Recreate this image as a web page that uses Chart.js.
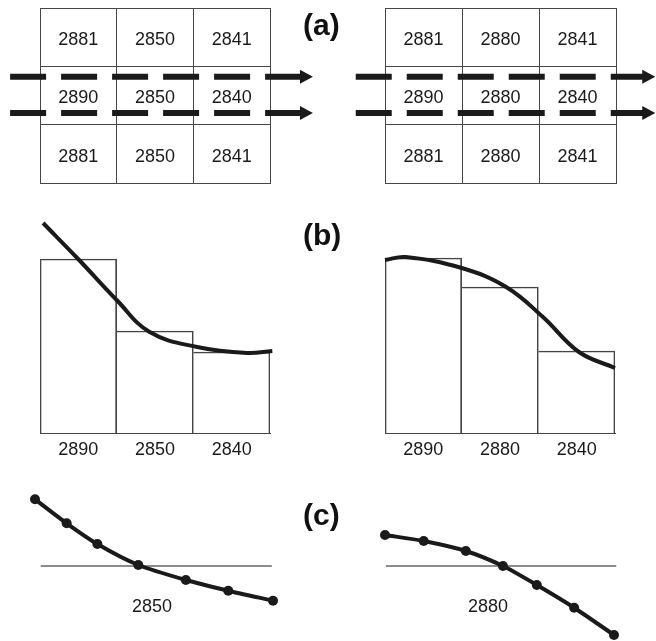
<!DOCTYPE html>
<html>
<head>
<meta charset="utf-8">
<script src="https://cdn.jsdelivr.net/npm/chart.js@4.4.1/dist/chart.umd.min.js"></script>
<style>
    html, body { margin: 0; padding: 0; background: #fff; }
    body { width: 656px; height: 641px; position: relative; overflow: hidden; font-family: "Liberation Sans", Arial, sans-serif; }
    canvas { position: absolute; }
    .tag { position: absolute; font-weight: bold; font-size: 30px; line-height: 30px; color: #111; }
</style>
</head>
<body>
<canvas id="aLeft" width="328" height="195" style="left:0;top:0"></canvas>
<canvas id="aRight" width="328" height="195" style="left:328px;top:0"></canvas>
<canvas id="bLeft" width="328" height="270" style="left:0;top:200px"></canvas>
<canvas id="bRight" width="328" height="270" style="left:328px;top:200px"></canvas>
<canvas id="cLeft" width="328" height="171" style="left:0;top:470px"></canvas>
<canvas id="cRight" width="328" height="171" style="left:328px;top:470px"></canvas>
<div class="tag" style="left:303px;top:10px">(a)</div>
<div class="tag" style="left:303px;top:220px">(b)</div>
<div class="tag" style="left:303px;top:500px">(c)</div>
<script>
const INK = "#1a1a1a";
const LINE = "#454545";
const FONT = "'Liberation Sans', Arial, sans-serif";

// (a) cell values, top row first
const aLeftCells = [
    [2881, 2850, 2841],
    [2890, 2850, 2840],
    [2881, 2850, 2841],
];
const aRightCells = [
    [2881, 2880, 2841],
    [2890, 2880, 2840],
    [2881, 2880, 2841],
];
// dashed flow arrows through the middle row (row units, 0 = bottom)
const arrowRows = [1.82, 1.2];
const arrowLeftSpan = [-0.39, 3.56];
const arrowRightSpan = [-0.38, 3.51];

// (b) cell bars and reconstructed profile
const bLeftLabels = ["2890", "2850", "2840"];
const bLeftBars = [8.7, 5.1, 4.05];
const bLeftCurveX = [0.04, 0.51, 1.0, 1.43, 2.05, 2.7, 3.03];
const bLeftCurveY = [10.5, 8.65, 6.65, 5.05, 4.3, 4.0, 4.1];

const bRightLabels = ["2890", "2880", "2840"];
const bRightBars = [8.75, 7.3, 4.1];
const bRightCurveX = [0, 0.27, 1.0, 1.58, 2.06, 2.53, 3.0];
const bRightCurveY = [8.65, 8.8, 8.25, 7.3, 5.8, 4.05, 3.25];

// (c) sub-cell values of the centre cell
const cLeftX = [0, 1.33, 2.62, 4.34, 6.34, 8.12, 10];
const cLeftY = [6.67, 4.27, 2.2, 0.1, -1.4, -2.47, -3.47];
const cLeftLevel = [0.24, 9.95];
const cRightX = [0, 1.69, 3.53, 5.15, 6.63, 8.26, 10];
const cRightY = [3.1, 2.5, 1.5, 0, -1.9, -4.17, -6.9];
const cRightLevel = [0.04, 10.1];
const cLabels = ["2850", "2880"];

const marks = {
    id: "marks",
    afterDatasetsDraw(chart, args, opts) {
        const ctx = chart.ctx;
        const xs = chart.scales.x;
        const ys = chart.scales.y;
        ctx.save();
        ctx.fillStyle = INK;
        ctx.font = "18px " + FONT;
        ctx.textAlign = "center";
        ctx.textBaseline = "middle";
        if (opts.cells) {
            const n = opts.cells.length;
            opts.cells.forEach((row, r) => {
                row.forEach((v, c) => {
                    ctx.fillText(String(v), xs.getPixelForValue(c + 0.5), ys.getPixelForValue(n - r - 0.5) + 3);
                });
            });
        }
        if (opts.note) {
            ctx.fillText(opts.note.text, xs.getPixelForValue(opts.note.x), ys.getPixelForValue(opts.note.y));
        }
        chart.data.datasets.forEach((ds, i) => {
            if (!ds.arrowHead) return;
            const pts = chart.getDatasetMeta(i).data;
            const tip = pts[pts.length - 1];
            ctx.beginPath();
            ctx.moveTo(tip.x, tip.y);
            ctx.lineTo(tip.x - 13, tip.y - 7);
            ctx.lineTo(tip.x - 13, tip.y + 7);
            ctx.closePath();
            ctx.fill();
        });
        ctx.restore();
    },
};

function baseOptions(padding) {
    return {
        responsive: false,
        animation: false,
        events: [],
        layout: { padding, autoPadding: false },
        plugins: { legend: { display: false }, tooltip: { enabled: false } },
    };
}

function gridChart(id, cells, span, padding) {
    const options = baseOptions(padding);
    options.plugins.marks = { cells };
    const axis = {
        type: "linear",
        min: 0,
        max: 3,
        ticks: { display: false, stepSize: 1 },
        grid: { color: LINE, drawTicks: false },
        border: { color: LINE },
    };
    options.scales = {
        x: { ...axis, afterFit: (s) => { s.height = 0; } },
        y: { ...axis, afterFit: (s) => { s.width = 0; } },
    };
    return new Chart(document.getElementById(id), {
        type: "line",
        data: {
            datasets: arrowRows.map((y) => ({
                data: [{ x: span[0], y }, { x: span[1], y }],
                borderColor: INK,
                borderWidth: 6,
                borderDash: [36, 15],
                borderCapStyle: "butt",
                pointRadius: 0,
                clip: false,
                arrowHead: true,
            })),
        },
        options,
        plugins: [marks],
    });
}

function barChart(id, labels, bars, curveX, curveY, padding) {
    const options = baseOptions(padding);
    options.scales = {
        x: {
            type: "category",
            offset: true,
            grid: { display: false, drawTicks: false },
            border: { display: true, color: LINE },
            ticks: { color: INK, font: { family: FONT, size: 18 }, padding: 6, maxRotation: 0 },
            afterFit: (s) => { s.height = 37; },
        },
        x2: { type: "linear", display: false, offset: false, min: 0, max: 3 },
        y: { display: false, min: 0, max: 11 },
    };
    return new Chart(document.getElementById(id), {
        type: "bar",
        data: {
            labels,
            datasets: [
                {
                    type: "line",
                    xAxisID: "x2",
                    data: curveX.map((x, i) => ({ x, y: curveY[i] })),
                    borderColor: INK,
                    borderWidth: 4,
                    tension: 0.4,
                    pointRadius: 0,
                    clip: false,
                },
                {
                    type: "bar",
                    xAxisID: "x",
                    data: bars,
                    grouped: false,
                    backgroundColor: "rgba(0,0,0,0)",
                    borderColor: LINE,
                    borderWidth: (c) => ({ top: 1, right: 1, left: c.dataIndex === 0 ? 1 : 0, bottom: 0 }),
                    borderSkipped: false,
                    categoryPercentage: 1,
                    barPercentage: 1,
                },
            ],
        },
        options,
    });
}

function profileChart(id, xs, ys, level, note, padding) {
    const options = baseOptions(padding);
    options.plugins.marks = { note };
    options.scales = {
        x: { type: "linear", display: false, min: 0, max: 10 },
        y: { type: "linear", display: false, min: -7, max: 7 },
    };
    return new Chart(document.getElementById(id), {
        type: "line",
        data: {
            datasets: [
                {
                    data: xs.map((x, i) => ({ x, y: ys[i] })),
                    borderColor: INK,
                    borderWidth: 4,
                    tension: 0.25,
                    pointRadius: 5,
                    pointBackgroundColor: INK,
                    pointBorderWidth: 0,
                    clip: false,
                },
                {
                    data: [{ x: level[0], y: 0 }, { x: level[1], y: 0 }],
                    borderColor: "#666",
                    borderWidth: 1.5,
                    pointRadius: 0,
                    clip: false,
                },
            ],
        },
        options,
        plugins: [marks],
    });
}

gridChart("aLeft", aLeftCells, arrowLeftSpan, { left: 40, right: 58, top: 8, bottom: 12 });
gridChart("aRight", aRightCells, arrowRightSpan, { left: 57, right: 40, top: 8, bottom: 12 });
barChart("bLeft", bLeftLabels, bLeftBars, bLeftCurveX, bLeftCurveY, { left: 40, right: 58, top: 13, bottom: 0 });
barChart("bRight", bRightLabels, bRightBars, bRightCurveX, bRightCurveY, { left: 57, right: 41, top: 13, bottom: 0 });
profileChart("cLeft", cLeftX, cLeftY, cLeftLevel, { text: cLabels[0], x: 4.92, y: -4.1 }, { left: 35, right: 55, top: 26, bottom: 5 });
profileChart("cRight", cRightX, cRightY, cRightLevel, { text: cLabels[1], x: 4.5, y: -4.1 }, { left: 57, right: 42, top: 26, bottom: 5 });
</script>
</body>
</html>
